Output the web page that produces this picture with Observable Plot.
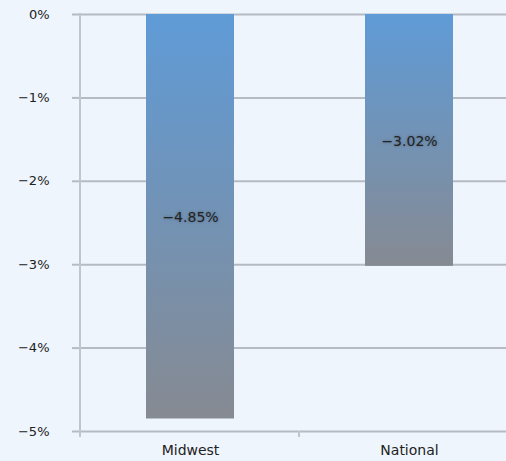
<!DOCTYPE html>
<html>
<head>
<meta charset="utf-8">
<script src="https://cdn.jsdelivr.net/npm/d3@7"></script>
<script src="https://cdn.jsdelivr.net/npm/@observablehq/plot@0.6"></script>
<style>
  html, body { margin: 0; padding: 0; background: #eef5fd; }
  #chart svg { display: block; background: #eef5fd; }
  .lbl text { text-shadow: 0 0 3px rgba(0,0,0,0.35); }
</style>
</head>
<body>
<div id="chart"></div>
<script>
const regions = ["Midwest", "National"];
const values = [-4.85, -3.02];
const yTicks = [0, -1, -2, -3, -4, -5];

const data = regions.map((r, i) => ({region: r, value: values[i]}));
const fmt = d => (d < 0 ? "\u2212" : "") + Math.abs(d) + "%";
const fmt2 = d => (d < 0 ? "\u2212" : "") + Math.abs(d).toFixed(2) + "%";

const font = "'DejaVu Sans', Verdana, sans-serif";
const plot = Plot.plot({
  width: 506,
  height: 461,
  marginLeft: 80,
  marginTop: 14,
  marginBottom: 30,
  marginRight: 0,
  style: {background: "#eef5fd", fontFamily: font, fontSize: "13px", color: "#222"},
  x: {domain: regions, range: [80, 518], paddingInner: 0.6, paddingOuter: 0.3, label: null},
  y: {domain: [-5, 0], label: null},
  marks: [
    Plot.ruleY(yTicks, {stroke: "#b6bbc3", strokeWidth: 2}),
    Plot.barY(data, {x: "region", y: "value", fill: "url(#barGrad)"}),
    Plot.text(data, {x: "region", y: d => d.value / 2, text: d => fmt2(d.value), fill: "#222", fontSize: 14, dy: 1, className: "lbl"}),
    Plot.axisY({ticks: yTicks, tickFormat: fmt, tickSize: 8, tickPadding: 23, stroke: "#b6bbc3", strokeWidth: 2, fill: "#222", fontSize: 13}),
    Plot.axisX({tickSize: 0, tickPadding: 14, fill: "#222", fontSize: 14})
  ]
});

// gradient + axis line
const svg = d3.select(plot);
const defs = svg.insert("defs", ":first-child");
const g = defs.append("linearGradient").attr("id", "barGrad").attr("x1", 0).attr("y1", 0).attr("x2", 0).attr("y2", 1);
g.append("stop").attr("offset", "0%").attr("stop-color", "#5f9bd7");
g.append("stop").attr("offset", "100%").attr("stop-color", "#868a92");

const xs = plot.scale("x"), ys = plot.scale("y");
const x0 = xs.range[0];
const yTop = ys.apply(0), yBot = ys.apply(-5);
svg.append("line").attr("x1", x0).attr("x2", x0).attr("y1", yTop - 1).attr("y2", yBot + 6)
  .attr("stroke", "#c2c6cc").attr("stroke-width", 2);
// category boundary ticks on bottom axis
const step = xs.step;
regions.forEach((r, i) => {
  const b = x0 + i * step;
  if (i > 0) svg.append("line").attr("x1", b).attr("x2", b).attr("y1", yBot).attr("y2", yBot + 6)
    .attr("stroke", "#c2c6cc").attr("stroke-width", 2);
});
document.getElementById("chart").appendChild(plot);
</script>
</body>
</html>
